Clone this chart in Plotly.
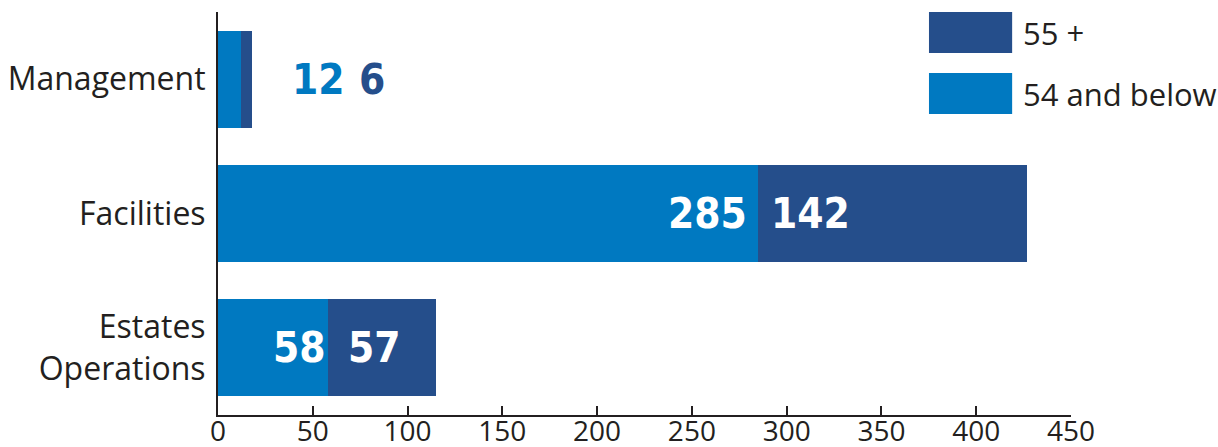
import plotly.graph_objects as go

categories = ["Management", "Facilities", "Estates<br>Operations"]
below_54 = [12, 285, 58]
over_55 = [6, 142, 57]
x_ticks = [0, 50, 100, 150, 200, 250, 300, 350, 400, 450]
legend_labels = ["55 +", "54 and below"]

LIGHT = "#0079C1"
DARK = "#254E8B"
TEXT = "#231F20"
FONT = "Open Sans"
NUM_FONT = "DejaVu Sans Condensed, Roboto, sans-serif"

# label offsets (pixels) for inside labels
right_shift = [0, -9, 0]
left_shift = [0, 11, 18]

fig = go.Figure()
fig.add_trace(go.Bar(y=categories, x=below_54, orientation="h", marker_color=LIGHT,
                     marker_line_width=0, width=0.72, name=legend_labels[1], showlegend=False))
fig.add_trace(go.Bar(y=categories, x=over_55, orientation="h", marker_color=DARK,
                     marker_line_width=0, width=0.72, name=legend_labels[0], showlegend=False))

numfont = lambda c: dict(family=NUM_FONT, size=42, color=c, weight="bold")

annotations = []
for i, cat in enumerate(categories):
    a, b = below_54[i], over_55[i]
    if a + b < 40:
        annotations.append(dict(x=a + b, y=cat, text=str(a), showarrow=False, xanchor="left",
                                xshift=38, font=numfont(LIGHT)))
        annotations.append(dict(x=a + b, y=cat, text=str(b), showarrow=False, xanchor="left",
                                xshift=105, font=numfont(DARK)))
    else:
        annotations.append(dict(x=a, y=cat, text=str(a), showarrow=False, xanchor="right",
                                xshift=right_shift[i], font=numfont("white")))
        annotations.append(dict(x=a, y=cat, text=str(b), showarrow=False, xanchor="left",
                                xshift=left_shift[i], font=numfont("white")))

legend_items = [(legend_labels[0], DARK, 1.0, 0.898), (legend_labels[1], LIGHT, 0.8486, 0.7469)]
shapes = []
for label, col, y1, y0 in legend_items:
    shapes.append(dict(type="rect", xref="paper", yref="paper", x0=0.8335, x1=0.931, y0=y0, y1=y1,
                       fillcolor=col, line_width=0))
    annotations.append(dict(xref="paper", yref="paper", x=0.9415, y=(y0 + y1) / 2, text=label,
                            showarrow=False, xanchor="left", yanchor="middle",
                            font=dict(family=FONT, size=31, color=TEXT)))

fig.update_layout(
    width=1218, height=447,
    margin=dict(l=218, r=147, t=12, b=32),
    paper_bgcolor="white", plot_bgcolor="white",
    barmode="stack",
    showlegend=False,
    annotations=annotations,
    shapes=shapes,
    font=dict(family=FONT, color=TEXT),
    xaxis=dict(range=[0, 450], tickvals=x_ticks, ticktext=[str(v) for v in x_ticks],
               showgrid=False, zeroline=False, showline=True, linecolor=TEXT, linewidth=2,
               ticks="inside", ticklen=9, tickwidth=1.5, tickcolor=TEXT, automargin=False,
               ticklabelstandoff=-10,
               tickfont=dict(family=FONT, size=28, color=TEXT)),
    yaxis=dict(range=[2.5, -0.5], showgrid=False, zeroline=False, automargin=False,
               showline=True, linecolor=TEXT, linewidth=2, ticks="", ticklabelstandoff=4,
               tickfont=dict(family=FONT, size=32, color=TEXT)),
)

fig.write_html("out.html")
